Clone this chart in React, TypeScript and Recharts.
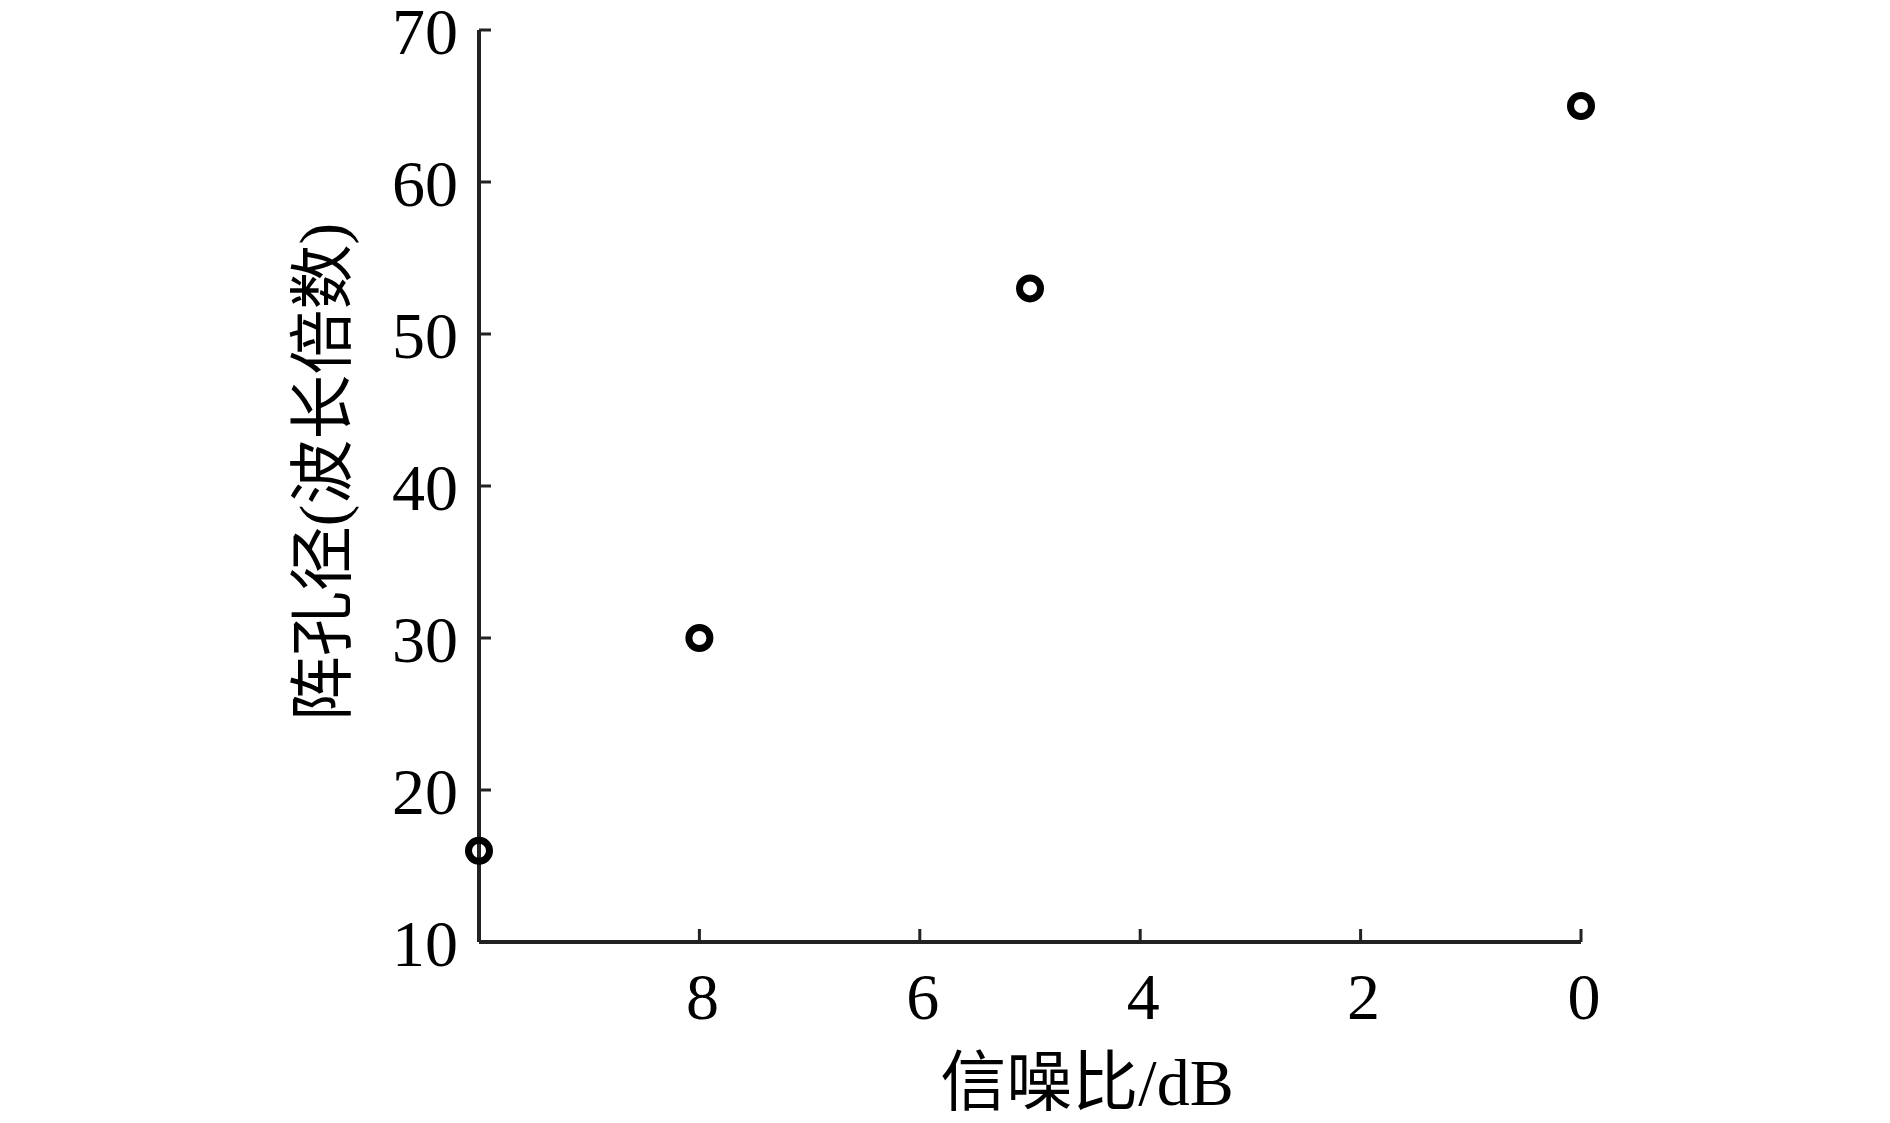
import React from 'react';
import { ScatterChart, Scatter, XAxis, YAxis, Label } from 'recharts';

const snrValues = [10, 8, 5, 0];
const apertureValues = [16, 30, 53, 65];
const xTicks = [0, 2, 4, 6, 8];
const yTicks = [10, 20, 30, 40, 50, 60, 70];
const xLabel = '信噪比/dB';
const yLabel = '阵孔径(波长倍数)';

const data = snrValues.map((s, i) => ({ snr: s, aperture: apertureValues[i] }));

const FONT = '"Liberation Serif", "Times New Roman", "Noto Sans CJK SC", serif';

const XTick = (props: any) => {
  const { x, y, payload } = props;
  return (
    <text x={x + 3} y={y} textAnchor="middle" dominantBaseline="central" fontFamily={FONT} fontSize={66} fill="#000">
      {payload.value}
    </text>
  );
};

const YTick = (props: any) => {
  const { x, y, payload } = props;
  return (
    <text x={x} y={y + 1} textAnchor="end" dominantBaseline="central" fontFamily={FONT} fontSize={66} fill="#000">
      {payload.value}
    </text>
  );
};

const Marker = (props: any) => {
  const { cx, cy } = props;
  return <circle cx={cx} cy={cy} r={10.5} fill="none" stroke="#000" strokeWidth={7} />;
};

export default function App() {
  return (
    <div style={{ position: 'absolute', left: 0, top: 0, width: 1890, height: 1123, background: '#fff' }}>
      <ScatterChart
        width={1890}
        height={1123}
        margin={{ top: 30, right: 309, bottom: 101, left: 379 }}
      >
        <XAxis
          type="number"
          dataKey="snr"
          domain={[0, 10]}
          reversed
          ticks={xTicks}
          interval={0}
          height={80}
          tickSize={-13}
          tickMargin={67}
          axisLine={{ stroke: '#222', strokeWidth: 4 }}
          tickLine={{ stroke: '#222', strokeWidth: 3 }}
          tick={<XTick />}
        >
          <Label
            content={() => (
              <text x={1087} y={1082} textAnchor="middle" dominantBaseline="central" fontFamily={FONT} fontSize={66} fill="#000">
                {xLabel}
              </text>
            )}
          />
        </XAxis>
        <YAxis
          type="number"
          dataKey="aperture"
          domain={[10, 70]}
          ticks={yTicks}
          interval={0}
          width={100}
          tickSize={-12}
          tickMargin={33}
          axisLine={{ stroke: '#222', strokeWidth: 4 }}
          tickLine={{ stroke: '#222', strokeWidth: 3 }}
          tick={<YTick />}
        >
          <Label
            content={() => (
              <text
                x={323}
                y={472}
                textAnchor="middle"
                dominantBaseline="central"
                fontFamily={FONT}
                fontSize={65}
                fill="#000"
                transform="rotate(-90 323 472)"
              >
                {yLabel}
              </text>
            )}
          />
        </YAxis>
        <Scatter data={data} shape={<Marker />} isAnimationActive={false} />
      </ScatterChart>
    </div>
  );
}
